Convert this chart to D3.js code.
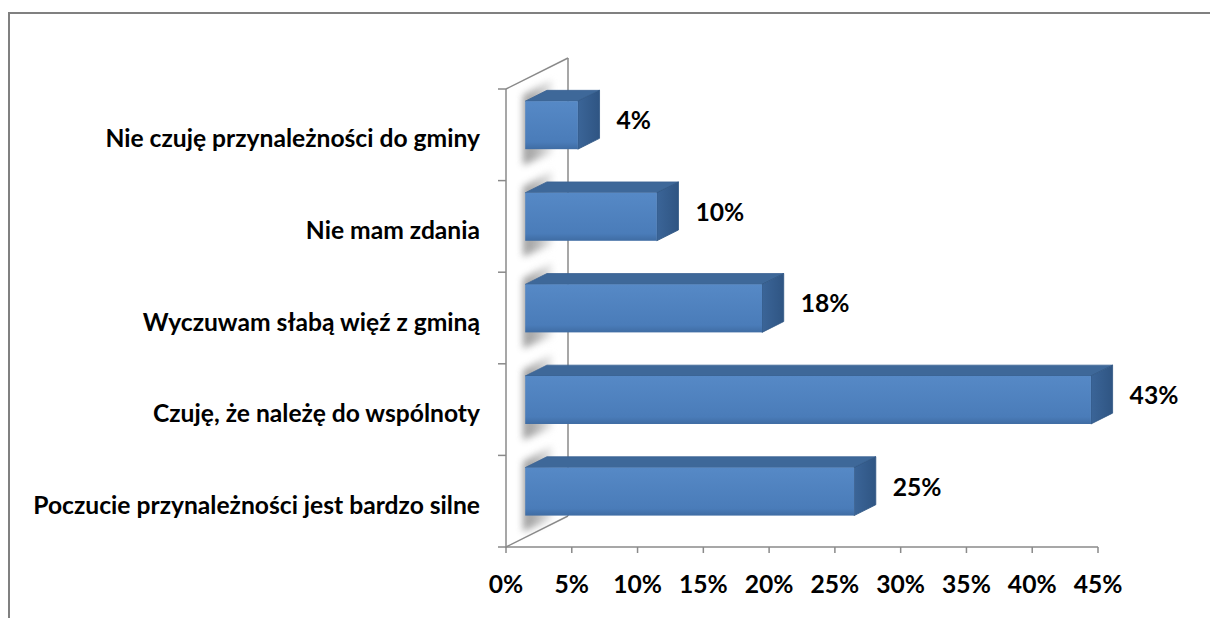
<!DOCTYPE html>
<html><head><meta charset="utf-8">
<script src="https://cdn.jsdelivr.net/npm/d3@7"></script>
<style>
body{margin:0;background:#fff}
svg{display:block}
text{font-family:Lato,'Liberation Sans',sans-serif;font-weight:700;fill:#000}
</style>
</head><body>
<svg id="c" width="1210" height="618"></svg>
<script>
const categories = [
  "Nie czuję przynależności do gminy",
  "Nie mam zdania",
  "Wyczuwam słabą więź z gminą",
  "Czuję, że należę do wspólnoty",
  "Poczucie przynależności jest bardzo silne"
];
const values = [4, 10, 18, 43, 25];
const valueLabels = ["4%", "10%", "18%", "43%", "25%"];
const xTicks = [0, 5, 10, 15, 20, 25, 30, 35, 40, 45];
const xTickLabels = ["0%", "5%", "10%", "15%", "20%", "25%", "30%", "35%", "40%", "45%"];

const svg = d3.select("#c");
const defs = svg.append("defs");
defs.append("filter").attr("id", "blur").attr("x", "-50%").attr("y", "-50%").attr("width", "200%").attr("height", "200%")
  .append("feGaussianBlur").attr("stdDeviation", 3.5);
const gFront = defs.append("linearGradient").attr("id", "gFront").attr("x1", 0).attr("y1", 0).attr("x2", 0).attr("y2", 1);
gFront.append("stop").attr("offset", "0%").attr("stop-color", "#5689c6");
gFront.append("stop").attr("offset", "85%").attr("stop-color", "#4a7cb9");
gFront.append("stop").attr("offset", "100%").attr("stop-color", "#3f6ca3");
const gSide = defs.append("linearGradient").attr("id", "gSide").attr("x1", 0).attr("y1", 0).attr("x2", 1).attr("y2", 0);
gSide.append("stop").attr("offset", "0%").attr("stop-color", "#3b6598");
gSide.append("stop").attr("offset", "100%").attr("stop-color", "#2f5583");
const gShadow = defs.append("linearGradient").attr("id", "gShadow").attr("x1", 0).attr("y1", 0).attr("x2", 1).attr("y2", 0);
gShadow.append("stop").attr("offset", "0%").attr("stop-color", "#7a7a7a");
gShadow.append("stop").attr("offset", "45%").attr("stop-color", "#9c9c9c");
gShadow.append("stop").attr("offset", "100%").attr("stop-color", "#e6e6e6");

// outer frame
svg.append("path").attr("d", "M9,618V13H1210").attr("fill", "none").attr("stroke", "#808080").attr("stroke-width", 2);

const x = d3.scaleLinear().domain([0, 45]).range([506, 1098]);
const y = d3.scaleBand().domain(categories).range([89, 547]).paddingInner(0.476).paddingOuter(0.238);
const DX = 62, DY = -31;     // depth vector
const d0 = 0.31, d1 = 0.66; // bar depth span
const axisColor = "#8a8a8a";
const top0 = y.range()[0], bot0 = y.range()[1];

// shadows on back wall
const sh = svg.append("g").attr("filter", "url(#blur)").attr("opacity", 0.75);
categories.forEach((c) => {
  const fy0 = y(c) + d0 * DY, fy1 = fy0 + y.bandwidth();
  const xa = x(0) + 17, xb = x(0) + 46;
  sh.append("polygon")
    .attr("points", [[xa, fy0 - 6], [xb, fy0 - 22], [xb, fy1 + 4], [xa, fy1 + 16]].join(" "))
    .attr("fill", "url(#gShadow)");
});

// walls
const wall = svg.append("g").attr("stroke", axisColor).attr("stroke-width", 1.5).attr("fill", "none");
wall.append("line").attr("x1", x(0)).attr("y1", top0).attr("x2", x(0)).attr("y2", bot0 + 1);
wall.append("line").attr("x1", x(0) + DX).attr("y1", top0 + DY).attr("x2", x(0) + DX).attr("y2", bot0 + DY);
wall.append("line").attr("x1", x(0)).attr("y1", top0).attr("x2", x(0) + DX).attr("y2", top0 + DY);
wall.append("line").attr("x1", x(0)).attr("y1", bot0).attr("x2", x(0) + DX).attr("y2", bot0 + DY);

// category ticks
d3.range(categories.length + 1).forEach(i => {
  const yy = top0 + i * y.step();
  wall.append("line").attr("x1", x(0) - 8).attr("x2", x(0)).attr("y1", yy).attr("y2", yy);
});

// x axis
wall.append("line").attr("x1", x(0)).attr("x2", x(45)).attr("y1", bot0).attr("y2", bot0);
xTicks.forEach(t => {
  wall.append("line").attr("x1", x(t)).attr("x2", x(t)).attr("y1", bot0).attr("y2", bot0 + 6);
});

// font fitting
const probe = svg.append("text").attr("font-size", 20).text(categories[4]);
const w20 = probe.node().getComputedTextLength();
probe.remove();
const fs = 20 * 447 / w20;

svg.append("g").selectAll("text").data(xTickLabels).join("text")
  .attr("x", (d, i) => x(xTicks[i])).attr("y", 583)
  .attr("text-anchor", "middle").attr("dominant-baseline", "central")
  .attr("font-size", fs).text(d => d);

svg.append("g").selectAll("text").data(categories).join("text")
  .attr("x", 480).attr("y", d => y(d) + y.bandwidth() / 2 + 3)
  .attr("text-anchor", "end").attr("dominant-baseline", "central")
  .attr("font-size", fs).text(d => d);

// bars
const ddx = (d1 - d0) * DX, ddy = (d1 - d0) * DY;
const bars = svg.append("g");
categories.forEach((c, i) => {
  const v = values[i];
  const fx0 = x(0) + d0 * DX, fx1 = x(v) + d0 * DX;
  const fy0 = y(c) + d0 * DY, fy1 = fy0 + y.bandwidth();
  const g = bars.append("g");
  g.append("polygon").attr("points", [[fx0, fy0], [fx1, fy0], [fx1 + ddx, fy0 + ddy], [fx0 + ddx, fy0 + ddy]].join(" "))
    .attr("fill", "#3e6899").attr("stroke", "#3a6293").attr("stroke-width", 0.8).attr("stroke-linejoin", "round");
  g.append("polygon").attr("points", [[fx1, fy0], [fx1 + ddx, fy0 + ddy], [fx1 + ddx, fy1 + ddy], [fx1, fy1]].join(" "))
    .attr("fill", "url(#gSide)").attr("stroke", "#2f5583").attr("stroke-width", 0.8).attr("stroke-linejoin", "round");
  g.append("rect").attr("x", fx0).attr("y", fy0).attr("width", fx1 - fx0).attr("height", fy1 - fy0)
    .attr("fill", "url(#gFront)");
  g.append("text").attr("x", fx1 + ddx + 17).attr("y", (fy0 + fy1) / 2 + ddy / 2)
    .attr("dominant-baseline", "central").attr("font-size", fs).text(valueLabels[i]);
});
</script>
</body></html>
